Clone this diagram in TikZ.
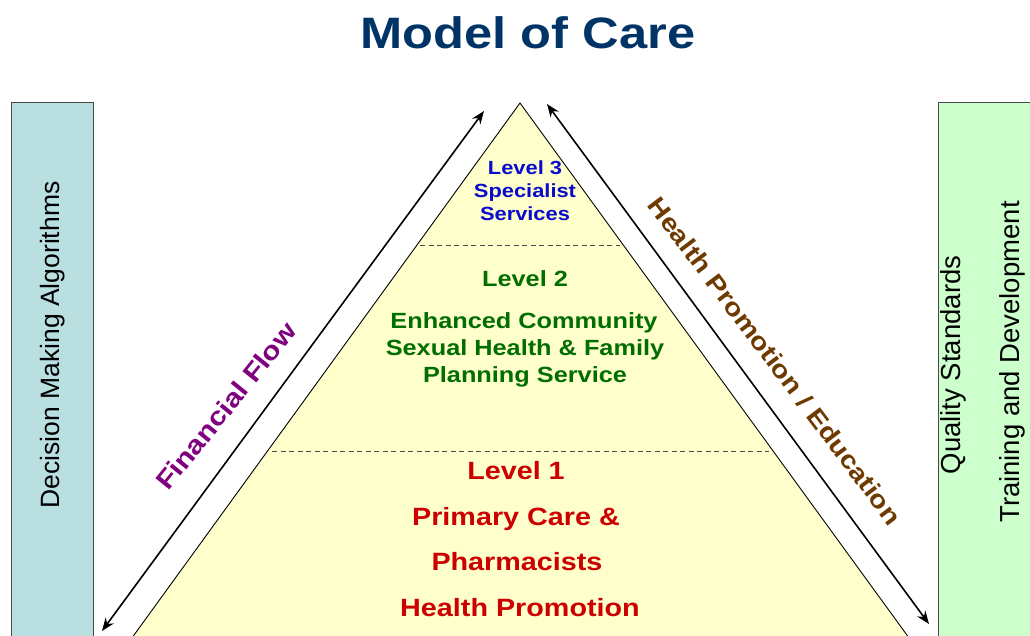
\documentclass[tikz,border=0pt]{standalone}
\usepackage{fontspec}
\setmainfont{Liberation Sans}
\newfontfamily\wide[FakeStretch=1.15]{Liberation Sans}
\usetikzlibrary{arrows.meta}
\definecolor{titleblue}{HTML}{003366}
\definecolor{lvlblue}{HTML}{0A0ACC}
\definecolor{lvlgreen}{HTML}{006E00}
\definecolor{lvlred}{HTML}{CC0000}
\definecolor{finpurple}{HTML}{800080}
\definecolor{hpbrown}{HTML}{6E3A00}
\definecolor{pyrfill}{HTML}{FFFFCC}
\definecolor{leftfill}{HTML}{B9DFE1}
\definecolor{rightfill}{HTML}{CCFFCC}
\definecolor{boxline}{HTML}{4A4A4A}
\begin{document}
\begin{tikzpicture}[x=1pt,y=-1pt,
  lvl/.style={anchor=base,inner sep=0pt,font=\wide\bfseries},
  side/.style={rotate=90,inner sep=0pt,font=\fontsize{26.5}{30}\selectfont},
  flowarrow/.style={line width=1.6pt,{Stealth[length=13pt,width=10pt]}-{Stealth[length=13pt,width=10pt]}},
  divider/.style={dashed,dash pattern=on 5pt off 3.5pt,line width=0.8pt,draw=black!70}]
\useasboundingbox (0,0) rectangle (1030,636);
\clip (0,0) rectangle (1030,636);
% side panels
\path[fill=leftfill,draw=boxline,line width=1pt] (11,103) rectangle (93,660);
\path[fill=rightfill,draw=boxline,line width=1pt] (938,103) rectangle (1060,660);
% pyramid
\coordinate (apex) at (520,103);
\coordinate (bl) at (113,664);
\coordinate (br) at (928,664);
\path[fill=pyrfill,draw=black,line width=0.9pt] (apex) -- (br) -- (bl) -- cycle;
% dividers
\coordinate (d3l) at (420,245); \coordinate (d3r) at (620,245);
\coordinate (d2l) at (272,451); \coordinate (d2r) at (769,451);
\draw[divider] (d3l) -- (d3r);
\draw[divider] (d2l) -- (d2r);
% arrows
\coordinate (fa1) at (102,631); \coordinate (fa2) at (484,111);
\coordinate (ha1) at (547,104); \coordinate (ha2) at (929,624);
\draw[flowarrow] (fa1) -- (fa2);
\draw[flowarrow] (ha1) -- (ha2);
% title
\node[lvl,text=titleblue,font=\fontsize{44}{50}\selectfont\wide\bfseries] (title) at (528,49) {Model of Care};
% level 3
\node[lvl,text=lvlblue,font=\fontsize{19}{23}\selectfont\wide\bfseries] (l3a) at (525,175) {Level 3};
\node[lvl,text=lvlblue,font=\fontsize{19}{23}\selectfont\wide\bfseries] (l3b) at (525,198) {Specialist};
\node[lvl,text=lvlblue,font=\fontsize{19}{23}\selectfont\wide\bfseries] (l3c) at (525,221) {Services};
% level 2
\node[lvl,text=lvlgreen,font=\fontsize{22}{26}\selectfont\wide\bfseries] (l2a) at (525,287) {Level 2};
\node[lvl,text=lvlgreen,font=\fontsize{22}{26}\selectfont\wide\bfseries] (l2b) at (524,328) {Enhanced Community};
\node[lvl,text=lvlgreen,font=\fontsize{22}{26}\selectfont\wide\bfseries] (l2c) at (525,355) {Sexual Health \& Family};
\node[lvl,text=lvlgreen,font=\fontsize{22}{26}\selectfont\wide\bfseries] (l2d) at (525,382) {Planning Service};
% level 1
\node[lvl,text=lvlred,font=\fontsize{25}{30}\selectfont\wide\bfseries] (l1a) at (516,479) {Level 1};
\node[lvl,text=lvlred,font=\fontsize{25}{30}\selectfont\wide\bfseries] (l1b) at (516,525) {Primary Care \&};
\node[lvl,text=lvlred,font=\fontsize{25}{30}\selectfont\wide\bfseries] (l1c) at (517,570) {Pharmacists};
\node[lvl,text=lvlred,font=\fontsize{25}{30}\selectfont\wide\bfseries] (l1d) at (520,616) {Health Promotion};
% diagonal labels
\node[inner sep=0pt,rotate=51,text=finpurple,font=\fontsize{26}{30}\selectfont\wide\bfseries] (fin) at (226,406) {Financial Flow};
\node[inner sep=0pt,rotate=-53,text=hpbrown,font=\fontsize{25}{30}\selectfont\wide\bfseries] (hp) at (775,361) {Health Promotion / Education};
% side labels
\node[side] (dma) at (53,345) {Decision Making Algorithms};
\node[side,font=\fontsize{27.5}{30}\selectfont] (qs) at (953,365) {Quality Standards};
\node[side,font=\fontsize{27.5}{30}\selectfont] (td) at (1012,362) {Training and Development};
\end{tikzpicture}
\end{document}
